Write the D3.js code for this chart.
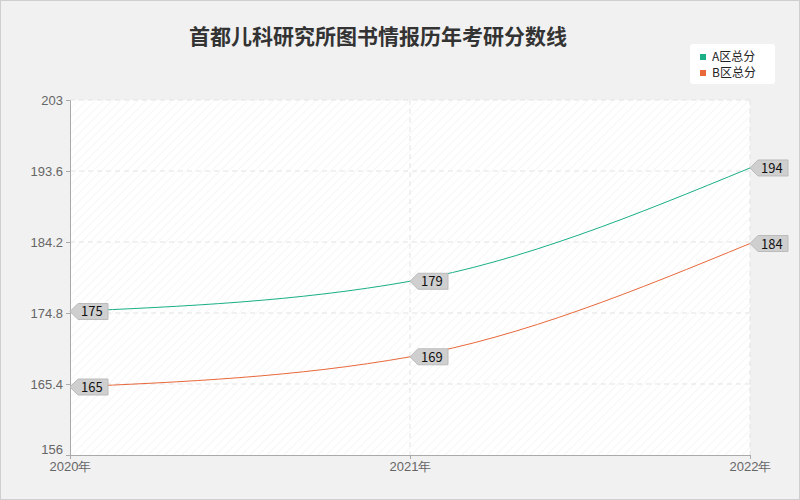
<!DOCTYPE html>
<html><head><meta charset="utf-8">
<script src="https://cdn.jsdelivr.net/npm/d3@7"></script>
<style>body{margin:0}svg{font-family:"Noto Sans CJK SC","Noto Sans",sans-serif}</style>
</head><body>
<script>
var years = ["2020年", "2021年", "2022年"];
var seriesNames = ["A区总分", "B区总分"];
var seriesA = [175, 179, 194];
var seriesB = [165, 169, 184];
var yTicks = [156, 165.4, 174.8, 184.2, 193.6, 203];
var colors = ["#1aaf87", "#e8683a"];

var width = 800, height = 500;
var margin = {top: 100, right: 50, bottom: 45, left: 70};

var svg = d3.select("body").append("svg").attr("width", width).attr("height", height);
svg.append("rect").attr("x", 0.5).attr("y", 0.5).attr("width", width - 1).attr("height", height - 1)
    .attr("fill", "#f1f1f1").attr("stroke", "#cfcfcf");

var defs = svg.append("defs");
var pat = defs.append("pattern").attr("id", "hatch").attr("width", 6).attr("height", 6)
    .attr("patternUnits", "userSpaceOnUse").attr("patternTransform", "rotate(45)");
pat.append("rect").attr("width", 6).attr("height", 6).attr("fill", "#fff");
pat.append("line").attr("x1", 0).attr("y1", 0).attr("x2", 0).attr("y2", 6).attr("stroke", "#f6f6f6").attr("stroke-width", 2);

var x = d3.scalePoint().domain(years).range([margin.left, width - margin.right]);
var y = d3.scaleLinear().domain([156, 203]).range([height - margin.bottom, margin.top]);

svg.append("rect").attr("x", margin.left).attr("y", margin.top)
    .attr("width", width - margin.left - margin.right).attr("height", height - margin.top - margin.bottom)
    .attr("fill", "url(#hatch)");

// grid
svg.append("g").selectAll("line").data(yTicks.slice(1)).join("line")
    .attr("x1", margin.left).attr("x2", width - margin.right)
    .attr("y1", d => y(d)).attr("y2", d => y(d))
    .attr("stroke", "#e3e3e3").attr("stroke-dasharray", "5,4");
svg.append("g").selectAll("line").data(years.slice(1)).join("line")
    .attr("x1", d => x(d)).attr("x2", d => x(d))
    .attr("y1", margin.top).attr("y2", height - margin.bottom)
    .attr("stroke", "#e3e3e3").attr("stroke-dasharray", "5,4");

// axes
var yAxis = svg.append("g").attr("transform", "translate(" + margin.left + ",0)")
    .call(d3.axisLeft(y).tickValues(yTicks).tickSize(4).tickFormat(d => d));
var xAxis = svg.append("g").attr("transform", "translate(0," + (height - margin.bottom) + ")")
    .call(d3.axisBottom(x).tickSize(4));
[xAxis, yAxis].forEach(function(g){
    g.selectAll("path,line").attr("stroke", "#aaa");
    g.selectAll("text").attr("fill", "#666").style("font-size", "13px");
});
yAxis.selectAll("text").filter(d => d === 156).attr("dy", "-0.1em");

var line = d3.line().x((d, i) => x(years[i])).y(d => y(d)).curve(d3.curveMonotoneX);
[seriesA, seriesB].forEach(function(s, k){
    svg.append("path").datum(s).attr("d", line).attr("fill", "none")
        .attr("stroke", colors[k]).attr("stroke-width", 1);
    var lab = svg.append("g").selectAll("g").data(s).join("g")
        .attr("transform", (d, i) => "translate(" + x(years[i]) + "," + y(d) + ")");
    lab.append("path").attr("d", "M0,0 L8,-8 L38,-8 L38,8 L8,8 Z")
        .attr("fill", "#cfcfcf").attr("stroke", "#bbb");
    lab.append("text").attr("x", 11).attr("y", 5).text(d => d)
        .style("font-size", "13px").attr("fill", "#111");
});

// title
svg.append("text").attr("x", 378).attr("y", 44).attr("text-anchor", "middle")
    .style("font-size", "21px").style("font-weight", "bold").attr("fill", "#333")
    .text("首都儿科研究所图书情报历年考研分数线");

// legend
var lg = svg.append("g").attr("transform", "translate(690,44)");
lg.append("rect").attr("width", 85).attr("height", 40).attr("rx", 3).attr("fill", "#fff");
seriesNames.forEach(function(n, i){
    lg.append("rect").attr("x", 10).attr("y", 10 + i * 16).attr("width", 6).attr("height", 6).attr("fill", colors[i]);
    lg.append("text").attr("x", 22).attr("y", 17 + i * 16).text(n).style("font-size", "12px").attr("fill", "#222");
});
</script>
</body></html>
